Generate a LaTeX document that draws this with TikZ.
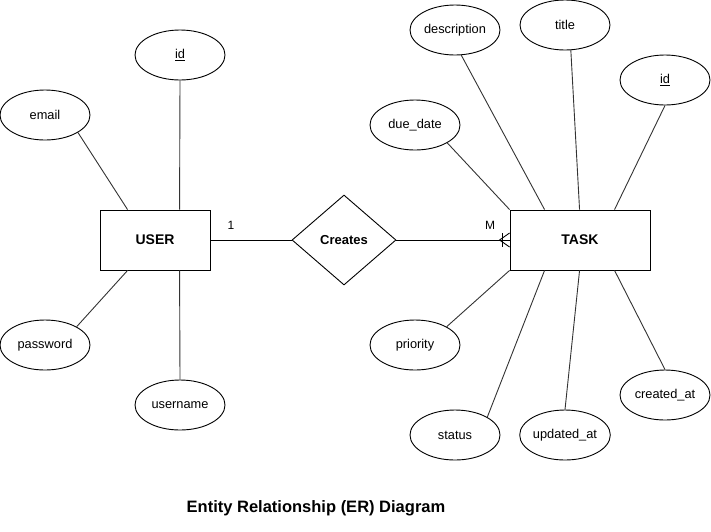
\documentclass[tikz,border=0pt]{standalone}
\usepackage{fontspec}
\setmainfont{Liberation Sans}
\usetikzlibrary{shapes.geometric,calc}
\begin{document}
\begin{tikzpicture}[x=1pt,y=-1pt,
  attr/.style={draw=black,line width=0.9pt,ellipse,minimum width=90pt,minimum height=50pt,inner sep=0pt,font=\fontsize{12.8}{15}\selectfont},
  entity/.style={draw=black,line width=0.9pt,rectangle,inner sep=0pt,font=\fontsize{14}{17}\selectfont\bfseries},
  rel/.style={draw=black,line width=0.9pt,diamond,minimum width=104pt,minimum height=90pt,inner sep=0pt,font=\fontsize{13}{16}\selectfont\bfseries},
  conn/.style={draw=black!80,line width=0.9pt},
  card/.style={font=\fontsize{12}{14}\selectfont}]
\useasboundingbox (0,0) rectangle (711,531);
% entities
\node[entity,minimum width=110pt,minimum height=60pt] (user) at (155,240) {USER};
\node[entity,minimum width=140pt,minimum height=60pt] (task) at (580,240) {TASK};
\node[rel] (creates) at (344,240) {Creates};
% user attributes
\node[attr] (uid) at (180,55) {\underline{id}};
\node[attr] (email) at (45,115) {email};
\node[attr] (password) at (45,345) {password};
\node[attr] (username) at (180,405) {username};
% task attributes
\node[attr] (description) at (455,30) {description};
\node[attr] (title) at (565,25) {title};
\node[attr] (tid) at (665,80) {\underline{id}};
\node[attr] (duedate) at (415,125) {due\_date};
\node[attr] (priority) at (415,345) {priority};
\node[attr] (status) at (455,435) {status};
\node[attr] (updatedat) at (565,435) {updated\_at};
\node[attr] (createdat) at (665,395) {created\_at};
% user connectors
\draw[conn] (uid.south) -- ($(user.north west)+(80pt,0pt)$);
\draw[conn] (email.-28) -- ($(user.north west)+(28pt,0pt)$);
\draw[conn] (password.30) -- ($(user.south west)+(28pt,0pt)$);
\draw[conn] (username.north) -- ($(user.south west)+(80pt,0pt)$);
% task connectors
\draw[conn] (description.-76) -- ($(task.north west)+(35pt,0pt)$);
\draw[conn] (title.-77) -- ($(task.north west)+(70pt,0pt)$);
\draw[conn] (tid.south) -- ($(task.north west)+(105pt,0pt)$);
\draw[conn] (duedate.-29) -- (task.north west);
\draw[conn] (priority.30) -- (task.south west);
\draw[conn] (status.29) -- ($(task.south west)+(35pt,0pt)$);
\draw[conn] (updatedat.north) -- ($(task.south west)+(70pt,0pt)$);
\draw[conn] (createdat.north) -- ($(task.south west)+(105pt,0pt)$);
% relationship connectors
\draw[line width=0.9pt] (user.east) -- (creates.west);
\draw[line width=0.9pt] (creates.east) -- (task.west);
% one-or-many crow's foot at TASK
\draw[line width=0.9pt] ($(task.west)+(-7pt,7pt)$) -- ($(task.west)+(-7pt,-7pt)$);
\draw[line width=0.9pt] ($(task.west)+(0pt,7pt)$) -- ($(task.west)+(-10pt,0pt)$) -- ($(task.west)+(0pt,-7pt)$);
% cardinalities
\node[card] (c1) at (231,225) {1};
\node[card] (cm) at (490,225) {M};
% title
\node[font=\fontsize{16.5}{20}\selectfont\bfseries] (caption) at (316,508) {Entity Relationship (ER) Diagram};
\end{tikzpicture}
\end{document}
